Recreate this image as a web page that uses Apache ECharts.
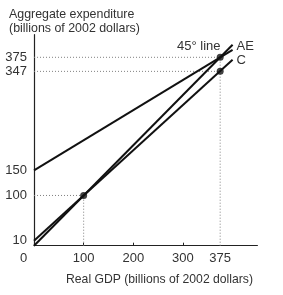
<!DOCTYPE html>
<html><head><meta charset="utf-8">
<script src="https://cdn.jsdelivr.net/npm/echarts@6/dist/echarts.min.js"></script>
<style>html,body{margin:0;padding:0;background:#fff}#c{width:283px;height:295px}</style>
</head><body><div id="c"></div>
<script>
// Data
var line45 = [[0, 0], [400, 400]];
var lineAE = [[0, 150], [400, 390]];
var lineC = [[0, 10], [400, 370]];
var points = [[100, 100], [375, 375], [375, 347]];
var guides = [
  [[0, 375], [375, 375]],
  [[0, 347], [375, 347]],
  [[375, 0], [375, 375]],
  [[0, 100], [100, 100]],
  [[100, 0], [100, 100]]
];
var xTickLabels = [0, 100, 200, 300, 375];
var xTicks = [100, 200, 300];
var yTickLabels = [10, 100, 150, 347, 375];
var seriesNames = ['45\u00b0 line', 'AE', 'C'];

var FONT = 'Liberation Sans, Arial, sans-serif';
var TXT = '#333';
var chart = echarts.init(document.getElementById('c'), null, {renderer: 'canvas'});

var series = [];
guides.forEach(function (g) {
  series.push({
    type: 'line', data: g, symbol: 'none', silent: true,
    lineStyle: {color: '#808080', width: 1, type: [1, 2]}, z: 1
  });
});
function mainLine(data, name, labelOpt) {
  return {
    type: 'line', name: name, data: data, symbol: 'none', z: 3,
    lineStyle: {color: '#111', width: 2},
    endLabel: Object.assign({show: true, formatter: name, fontFamily: FONT, fontSize: 13, color: TXT}, labelOpt)
  };
}
series.push(mainLine(line45, seriesNames[0], {align: 'right', distance: 0, offset: [-12, 2]}));
series.push(mainLine(lineAE, seriesNames[1], {distance: 4, offset: [0, -3]}));
series.push(mainLine(lineC, seriesNames[2], {distance: 4, offset: [0, 1]}));
series.push({
  type: 'scatter', data: points, symbol: 'circle', symbolSize: 7, z: 5,
  itemStyle: {color: '#111'}
});

chart.setOption({
  animation: false,
  title: [
    {text: 'Aggregate expenditure\n(billions of 2002 dollars)', left: 4, top: 3,
     textStyle: {fontFamily: FONT, fontSize: 12.4, fontWeight: 'normal', color: TXT, lineHeight: 14}},
    {text: 'Real GDP (billions of 2002 dollars)', right: 25, top: 269,
     textStyle: {fontFamily: FONT, fontSize: 12.2, fontWeight: 'normal', color: TXT}}
  ],
  grid: {left: 34, right: 25.6, top: 34.7, bottom: 49.3},
  xAxis: {
    type: 'value', min: 0, max: 450,
    splitLine: {show: false},
    axisLine: {lineStyle: {color: '#222', width: 1.2}},
    axisTick: {show: true, inside: true, length: 3, customValues: xTicks, lineStyle: {color: '#222'}},
    axisLabel: {
      customValues: xTickLabels, margin: 6, fontFamily: FONT, fontSize: 13, color: TXT,
      formatter: function (v) { return v === 0 ? '{z|0}' : String(v); },
      rich: {z: {fontFamily: FONT, fontSize: 13, color: TXT, padding: [0, 21, 0, 0]}}
    }
  },
  yAxis: {
    type: 'value', min: 0, max: 420,
    splitLine: {show: false},
    axisLine: {show: true, lineStyle: {color: '#222', width: 1.2}},
    axisTick: {show: false},
    axisLabel: {customValues: yTickLabels, margin: 7, fontFamily: FONT, fontSize: 13, color: TXT}
  },
  series: series
});
</script>
</body></html>
